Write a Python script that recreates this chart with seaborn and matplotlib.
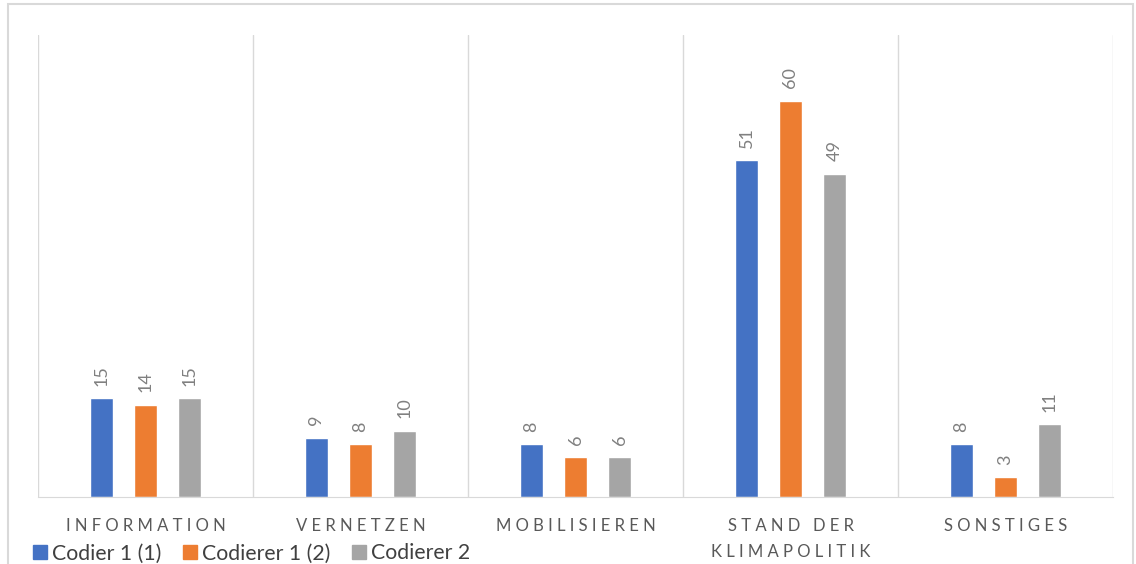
import numpy as np
import pandas as pd
import seaborn as sns
import matplotlib.pyplot as plt
from matplotlib.patches import Rectangle

categories = ["INFORMATION", "VERNETZEN", "MOBILISIEREN", "STAND DER\nKLIMAPOLITIK", "SONSTIGES"]
series = ["Codier 1 (1)", "Codierer 1 (2)", "Codierer 2"]
codier_1_1 = [15, 9, 8, 51, 8]
codierer_1_2 = [14, 8, 6, 60, 3]
codierer_2 = [15, 10, 6, 49, 11]
colors = ["#4472C4", "#ED7D31", "#A5A5A5"]


def spaced(label):
    # imitate the wide letter spacing of the category labels
    return "\n".join("   ".join(" ".join(w) for w in line.split(" ")) for line in label.split("\n"))


df = pd.DataFrame({"Kategorie": categories, series[0]: codier_1_1,
                   series[1]: codierer_1_2, series[2]: codierer_2})
df = df.melt(id_vars="Kategorie", var_name="Codierer", value_name="Anzahl")

sns.set_style("white")
plt.rcParams["font.family"] = ["Lato", "DejaVu Sans"]

fig = plt.figure(figsize=(11.36, 5.64), dpi=100)
ax = fig.add_axes([38 / 1136, 67 / 564, 1075 / 1136, 462 / 564])

sns.barplot(data=df, x="Kategorie", y="Anzahl", hue="Codierer", hue_order=series,
            order=categories, palette=colors, width=0.614, gap=0.48,
            saturation=1, legend=False, ax=ax)

for cont in ax.containers:
    ax.bar_label(cont, rotation=90, padding=9, color="#808080", fontsize=13)

ax.set_xlim(-0.5, 4.5)
ax.set_ylim(0, 70)
ax.set_xticks(range(len(categories)))
ax.set_xticklabels([spaced(c) for c in categories], fontsize=12, color="#595959",
                   linespacing=1.75)
ax.set_xticks(np.arange(-0.5, 5, 1), minor=True)
ax.grid(which="minor", axis="x", color="#d9d9d9", lw=1)
ax.grid(which="major", axis="both", visible=False)
ax.tick_params(which="both", length=0)
ax.tick_params(axis="x", pad=15)
ax.set_yticks([])
ax.set_xlabel("")
ax.set_ylabel("")
for s in ["top", "left", "right"]:
    ax.spines[s].set_visible(False)
ax.spines["bottom"].set_color("#d9d9d9")

handles = [Rectangle((0, 0), 1, 1, color=c) for c in colors]
fig.legend(handles, series, loc="lower left", bbox_to_anchor=(14 / 1136, -0.033),
           ncol=3, frameon=False, fontsize=15.3, handlelength=0.66, handleheight=0.66,
           handletextpad=0.25, columnspacing=1.0, labelcolor="#404040")

fig.patches.append(Rectangle((8 / 1136, -0.1), 1125 / 1136, 1.1 - 4 / 564,
                             transform=fig.transFigure, fill=False,
                             edgecolor="#d9d9d9", lw=1.5))

fig.savefig("out.png", dpi=100)
